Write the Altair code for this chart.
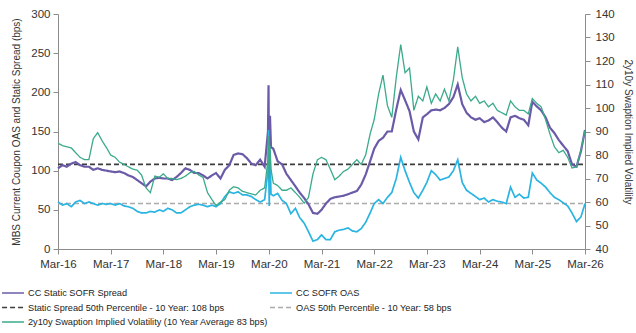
import altair as alt
import pandas as pd

# ---------------- data ----------------
months = pd.date_range("2016-03-01", "2026-03-01", freq="MS").strftime("%Y-%m-%d").tolist()

static_spread = [
    103, 107, 105, 109, 111, 107, 105, 105, 101, 103, 101, 100,
    99, 98, 99, 97, 94, 92, 88, 84, 80, 86, 90, 91,
    90, 90, 88, 92, 97, 103, 101, 97, 97, 94, 90, 94,
    97, 90, 101, 107, 120, 122, 121, 116, 109, 107, 114, 105,
    140, 128, 112, 108, 96, 88, 80, 72, 65, 57, 46, 45,
    50, 58, 64, 66, 67, 68, 70, 72, 74, 82, 95, 112,
    128, 138, 142, 150, 150, 178, 203, 190, 176, 150, 140, 168,
    172, 177, 178, 177, 180, 185, 194, 210, 185, 174, 168, 165,
    167, 162, 164, 168, 162, 155, 150, 168, 170, 167, 165, 158,
    188, 182, 177, 168, 155, 148, 139, 132, 125, 108, 105, 125,
    152,
]
oas = [
    60, 56, 58, 54, 60, 62, 58, 60, 58, 56, 58, 57,
    58, 56, 58, 55, 54, 52, 48, 46, 46, 48, 47, 50,
    48, 52, 50, 46, 46, 50, 54, 56, 57, 56, 54, 56,
    54, 58, 67, 73, 71, 73, 69, 69, 67, 63, 60, 63,
    90, 68, 71, 62, 58, 45, 52, 40, 33, 22, 10, 12,
    18, 12, 12, 22, 24, 25, 27, 23, 22, 26, 34, 46,
    58, 63, 58, 66, 72, 90, 117, 100, 85, 72, 65, 75,
    85, 100, 95, 88, 90, 92, 100, 114, 85, 75, 71, 67,
    63, 65, 60, 63, 61, 60, 58, 79, 66, 70, 65, 66,
    97, 88, 84, 79, 72, 66, 63, 59, 55, 46, 35, 41,
    58,
]
swaption_vol = [
    85, 84, 83.5, 83, 81, 79, 78, 78, 87, 89.5, 86, 83,
    80, 79, 77, 76, 75, 74, 73.5, 71.5, 66, 64, 71, 70.5,
    72, 70, 70, 69.5, 70, 71, 72.5, 73, 71.5, 70.5, 64, 61,
    58.5, 60, 61, 65, 66.5, 66, 64.5, 64, 63.5, 63, 65, 66,
    76, 68, 67, 65, 65, 66, 64, 62, 59.5, 62, 72, 78,
    79, 78, 74, 69.5, 71, 73, 74, 76, 78, 76, 80, 89,
    95, 106, 114, 101, 96, 113, 127, 115, 117, 99, 105, 103,
    109, 102, 106, 103, 108, 103, 112, 126, 113, 106, 103, 105,
    102, 103, 100.5, 102, 99, 98, 97, 103, 100.5, 99, 99, 97.5,
    104, 102, 100.5, 95, 89, 83.5, 81, 82, 79, 74.5, 75, 82,
    90.5,
]

# March-2020 spike (extra daily readings)
spike_dates = ["2020-02-24", "2020-02-28", "2020-03-04", "2020-03-09", "2020-03-16"]
spike_static = [150, 209, 120, 170, 130]
spike_oas = [100, 152, 55, 125, 70]
spike_vol = [78, 88, 70, 84, 74]

static_median = 108
oas_median = 58
range_dates = ["2016-03-01", "2026-03-01"]

S_STATIC = "CC Static SOFR Spread"
S_OAS = "CC SOFR OAS"
S_SMED = "Static Spread 50th Percentile - 10 Year: 108 bps"
S_OMED = "OAS 50th Percentile - 10 Year: 58 bps"
S_VOL = "2y10y Swaption Implied Volatility (10 Year Average 83 bps)"

series_order = [S_STATIC, S_OAS, S_SMED, S_OMED, S_VOL]
series_colors = ["#6a5aa8", "#2ab4e2", "#3d3d3d", "#aaaaaa", "#3aaa8b"]
series_dash = [[1, 0], [1, 0], [5, 3], [5, 3], [1, 0]]


def frame(dates, values, name):
    d = pd.DataFrame({"date": dates, "value": values})
    d["series"] = name
    return d.sort_values("date")


df_static = frame(months + spike_dates, static_spread + spike_static, S_STATIC)
df_oas = frame(months + spike_dates, oas + spike_oas, S_OAS)
df_vol = frame(months + spike_dates, swaption_vol + spike_vol, S_VOL)
df_smed = frame(range_dates, [static_median] * 2, S_SMED)
df_omed = frame(range_dates, [oas_median] * 2, S_OMED)

# ---------------- encodings ----------------
FONT = "Liberation Sans"

x_enc = alt.X(
    "date:T",
    scale=alt.Scale(
        type="utc",
        domain=[alt.DateTime(year=2016, month=3, date=1, utc=True),
                alt.DateTime(year=2026, month=3, date=1, utc=True)],
    ),
    axis=alt.Axis(
        values=[alt.DateTime(year=y, month=3, date=1, utc=True) for y in range(2016, 2027)],
        format="%b-%y",
        title=None,
        grid=False,
        labelFontSize=11.5,
        labelPadding=4,
        labelOverlap=False,
        labelFlush=False,
    ),
)

legend = alt.Legend(
    title=None,
    orient="none",
    legendX=-57,
    legendY=272,
    direction="horizontal",
    columns=2,
    columnPadding=0,
    rowPadding=0.5,
    clipHeight=14,
    padding=0,
    symbolType="stroke",
    symbolSize=480,
    symbolStrokeWidth=1.6,
    labelFont=FONT,
    labelFontSize=9.2,
    labelColor="#222222",
    labelOffset=3,
    labelLimit=400,
)

color_enc = alt.Color("series:N", scale=alt.Scale(domain=series_order, range=series_colors), legend=legend)
dash_enc = alt.StrokeDash("series:N", scale=alt.Scale(domain=series_order, range=series_dash), legend=legend)

y_left = alt.Y(
    "value:Q",
    scale=alt.Scale(domain=[0, 300], nice=False),
    axis=alt.Axis(
        orient="left",
        values=list(range(0, 301, 50)),
        title="MBS Current Coupon OAS and Static Spread (bps)",
        grid=False,
        labelFontSize=11.5,
        labelPadding=3,
        titlePadding=9,
    ),
)
y_right = alt.Y(
    "value:Q",
    scale=alt.Scale(domain=[40, 140], nice=False),
    axis=alt.Axis(
        orient="right",
        values=list(range(40, 141, 10)),
        title="2y10y Swaption Implied Volatility",
        grid=False,
        labelFontSize=11.5,
        labelPadding=5,
        titlePadding=8,
        titleAngle=90,
    ),
)


def line(df, width, y):
    return alt.Chart(df).mark_line(strokeWidth=width, interpolate="linear").encode(
        x=x_enc, y=y, color=color_enc, strokeDash=dash_enc
    )


left = alt.layer(
    line(df_smed, 1.6, y_left),
    line(df_omed, 1.4, y_left),
    line(df_static, 2.2, y_left),
    line(df_oas, 1.7, y_left),
)
right = line(df_vol, 1.3, y_right)

chart = (
    alt.layer(left, right)
    .resolve_scale(y="independent")
    .properties(
        width=527,
        height=235,
        autosize=alt.AutoSizeParams(type="none"),
        padding={"left": 58, "top": 14, "right": 51, "bottom": 84},
        background="white",
    )
    .configure_view(strokeWidth=0)
    .configure_axis(
        labelFont=FONT,
        titleFont=FONT,
        labelColor="#333333",
        titleColor="#333333",
        titleFontSize=10,
        titleFontWeight="normal",
        domainColor="#8c8c8c",
        tickColor="#8c8c8c",
        tickSize=5,
    )
)

chart.save("out.html", embed_options={"renderer": "svg", "actions": False})
